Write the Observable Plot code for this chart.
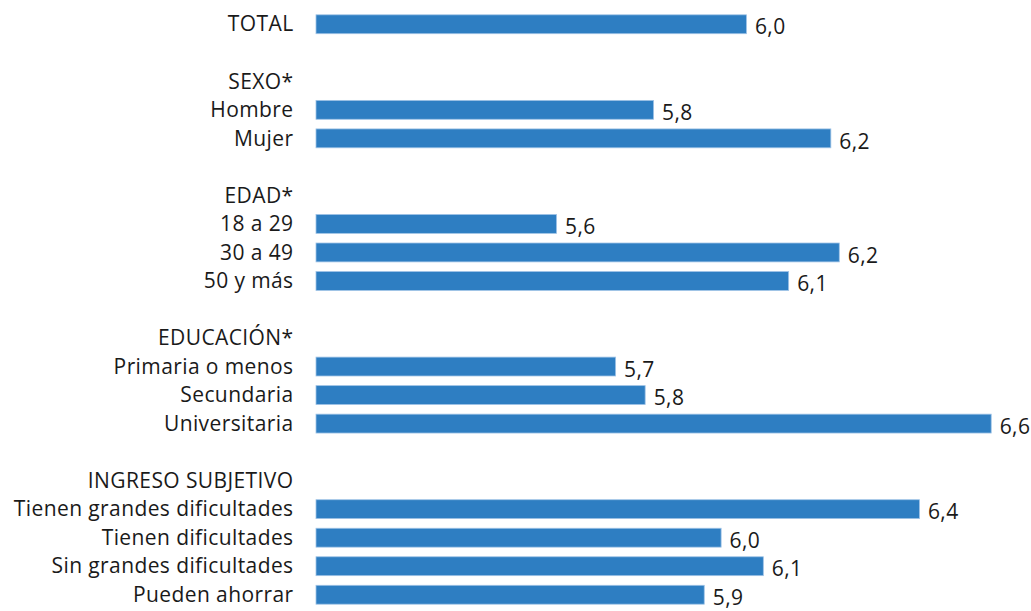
<!DOCTYPE html>
<html>
<head>
<meta charset="utf-8">
<script src="https://cdn.jsdelivr.net/npm/d3@7"></script>
<script src="https://cdn.jsdelivr.net/npm/@observablehq/plot@0.6"></script>
<style>
  html, body { margin: 0; padding: 0; background: #fff; overflow: hidden; }
  #chart svg { display: block; }
  #chart svg text { letter-spacing: 0.4px; }
</style>
</head>
<body>
<div id="chart"></div>
<script>
// Row order (gap rows are blank spacer rows)
const rows = [
  "TOTAL", "gap1",
  "SEXO*", "Hombre", "Mujer", "gap2",
  "EDAD*", "18 a 29", "30 a 49", "50 y más", "gap3",
  "EDUCACIÓN*", "Primaria o menos", "Secundaria", "Universitaria", "gap4",
  "INGRESO SUBJETIVO", "Tienen grandes dificultades", "Tienen dificultades", "Sin grandes dificultades", "Pueden ahorrar"
];
// Bars
const categories = ["TOTAL", "Hombre", "Mujer", "18 a 29", "30 a 49", "50 y más",
  "Primaria o menos", "Secundaria", "Universitaria",
  "Tienen grandes dificultades", "Tienen dificultades", "Sin grandes dificultades", "Pueden ahorrar"];
const values = [6.02, 5.80, 6.22, 5.57, 6.24, 6.12, 5.71, 5.78, 6.60, 6.43, 5.96, 6.06, 5.92];
const valueLabels = ["6,0", "5,8", "6,2", "5,6", "6,2", "6,1", "5,7", "5,8", "6,6", "6,4", "6,0", "6,1", "5,9"];

const data = categories.map((c, i) => ({cat: c, value: values[i], label: valueLabels[i]}));

const font = "'Open Sans', 'Noto Sans', sans-serif";

const chart = Plot.plot({
  width: 1031,
  height: 611,
  marginTop: 10,
  marginBottom: 2,
  marginLeft: 316,
  marginRight: 0,
  style: {fontFamily: font, fontSize: "21px", color: "#1a1a1a", background: "#fff"},
  x: {domain: [5, 7], range: [316, 316 + 2 * 422], axis: null},
  y: {domain: rows, paddingInner: 0.31, paddingOuter: 0.155, round: false, label: null},
  marks: [
    Plot.ruleX([5], {dx: -1.5, stroke: "#e4e4e4", strokeWidth: 3, y1: null}),
    Plot.barX(data, {x1: 5, x2: "value", y: "cat", fill: "#2e7ec2", stroke: "#9fc3e6", strokeWidth: 0.8, insetTop: 0.4, insetBottom: 0.4}),
    Plot.text(data, {x: "value", y: "cat", text: "label", textAnchor: "start", dx: 8, dy: 3, fontSize: 21, fill: "#1a1a1a"}),
    Plot.axisY({tickSize: 0, tickPadding: 23, fontSize: 21, label: null,
      tickFormat: d => d.startsWith("gap") ? "" : d})
  ]
});
document.getElementById("chart").appendChild(chart);
</script>
</body>
</html>
